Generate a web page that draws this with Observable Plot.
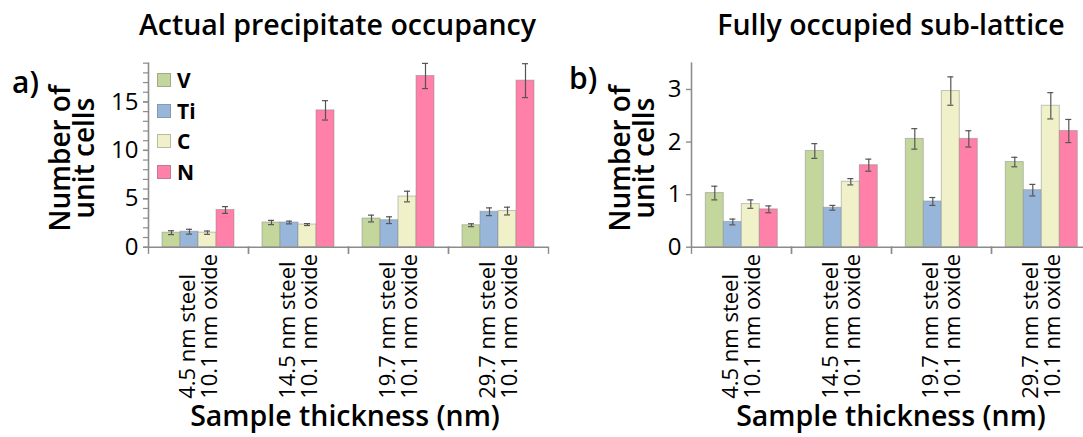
<!DOCTYPE html>
<html>
<head>
<meta charset="utf-8">
<script src="https://cdn.jsdelivr.net/npm/d3@7"></script>
<script src="https://cdn.jsdelivr.net/npm/@observablehq/plot@0.6"></script>
<style>
html, body { margin: 0; padding: 0; background: #fff; overflow: hidden; }
#wrap { position: relative; width: 1083px; height: 437px; overflow: hidden; font-family: "Open Sans", sans-serif; color: #000; }
.abs { position: absolute; white-space: nowrap; }
.title { font-size: 28.5px; line-height: 30px; font-weight: 600; transform: translateX(-50%); }
.xtitle { font-size: 28.5px; line-height: 30px; font-weight: 600; transform: translateX(-50%); }
.plabel { font-size: 30px; line-height: 30px; font-weight: 600; }
.legend { font-weight: bold; font-size: 21px; }
.legend .row { position: absolute; left: 0; display: flex; align-items: center; height: 24px; }
.legend .sw { width: 14px; height: 14px; box-sizing: border-box; border: 1px solid rgba(120,120,120,0.45); margin-right: 6px; }
</style>
</head>
<body>
<div id="wrap"></div>
<script>
// ---- data ----
const groups = ["4.5 nm steel\n10.1 nm oxide", "14.5 nm steel\n10.1 nm oxide", "19.7 nm steel\n10.1 nm oxide", "29.7 nm steel\n10.1 nm oxide"];
const elements = ["V", "Ti", "C", "N"];
const colors = ["#c3d69b", "#98b6da", "#f1f1c9", "#ff80a8"];

// (a) Actual precipitate occupancy
const actualV  = [1.50, 2.55, 2.96, 2.27];
const actualTi = [1.60, 2.55, 2.79, 3.66];
const actualC  = [1.50, 2.34, 5.23, 3.73];
const actualN  = [3.84, 14.13, 17.68, 17.20];
const actualErrV  = [0.20, 0.22, 0.35, 0.15];
const actualErrTi = [0.25, 0.14, 0.35, 0.40];
const actualErrC  = [0.17, 0.10, 0.55, 0.40];
const actualErrN  = [0.35, 1.00, 1.30, 1.75];

// (b) Fully occupied sub-lattice
const fullV  = [1.03, 1.83, 2.06, 1.62];
const fullTi = [0.48, 0.75, 0.87, 1.085];
const fullC  = [0.82, 1.245, 2.97, 2.69];
const fullN  = [0.72, 1.56, 2.06, 2.21];
const fullErrV  = [0.13, 0.14, 0.195, 0.09];
const fullErrTi = [0.055, 0.045, 0.075, 0.11];
const fullErrC  = [0.08, 0.06, 0.27, 0.25];
const fullErrN  = [0.065, 0.115, 0.155, 0.22];

const yTicksA = [0, 5, 10, 15];
const yMinorA = d3.range(0, 20, 1);
const yTicksB = [0, 1, 2, 3];

const titleA = "Actual precipitate occupancy";
const titleB = "Fully occupied sub-lattice";
const yLabel = "Number of\nunit cells";
const xLabel = "Sample thickness (nm)";

function table(vals, errs) {
  return groups.flatMap((g, i) => elements.map((e, j) => ({group: g, element: e, value: vals[j][i], err: errs[j][i]})));
}
const dataA = table([actualV, actualTi, actualC, actualN], [actualErrV, actualErrTi, actualErrC, actualErrN]);
const dataB = table([fullV, fullTi, fullC, fullN], [fullErrV, fullErrTi, fullErrC, fullErrN]);

const axisColor = "#8c8c8c";
const errColor = "#555";

function panel({data, yDomain, ticks, minor, width, marginLeft, marginRight, yLabelDx}) {
  const marginTop = 62.7, marginBottom = 190.3, height = 437;
  const plotH = height - marginTop - marginBottom;
  const marks = [
    Plot.barY(data, {fx: "group", x: "element", y: "value", fill: "element", stroke: "#8a8a8a", strokeOpacity: 0.5, strokeWidth: 1}),
    Plot.ruleX(data, {fx: "group", x: "element", y1: d => d.value - d.err, y2: d => d.value + d.err, stroke: errColor, strokeWidth: 1.2}),
    Plot.tickY(data, {fx: "group", x: "element", y: d => d.value + d.err, inset: 6, stroke: errColor, strokeWidth: 1.2}),
    Plot.tickY(data, {fx: "group", x: "element", y: d => d.value - d.err, inset: 6, stroke: errColor, strokeWidth: 1.2}),
    Plot.ruleY([0], {stroke: axisColor, strokeWidth: 1.6}),
    Plot.frame({anchor: "left", insetTop: plotH, insetBottom: -6, stroke: axisColor, strokeWidth: 1.4}),
    Plot.frame({anchor: "right", insetTop: plotH, insetBottom: -6, stroke: axisColor, strokeWidth: 1.4}),
    Plot.frame({anchor: "left", facetAnchor: "left", stroke: axisColor, strokeWidth: 1.6}),
  ];
  if (minor) marks.push(Plot.axisY({ticks: minor, tickSize: 5, tickFormat: () => "", stroke: axisColor, strokeWidth: 1.2, label: null}));
  marks.push(Plot.axisY({ticks, tickSize: 5, tickPadding: 5, tickFormat: d3.format("d"), stroke: axisColor, strokeWidth: 1.4, fill: "#000", fontSize: 24, label: null}));
  marks.push(Plot.text([groups[0]], {fx: d => d, text: () => yLabel, frameAnchor: "left", rotate: -90, dx: yLabelDx, dy: 3,
    textAnchor: "middle", lineAnchor: "middle", fontSize: 28, fontWeight: 600, lineHeight: 0.86, fill: "#000"}));
  marks.push(Plot.text(groups, {fx: d => d, text: d => d, frameAnchor: "bottom", rotate: -90, dy: 151.6,
    textAnchor: "start", lineAnchor: "middle", fontSize: 22, lineHeight: 1.0, fill: "#000"}));
  return Plot.plot({
    width, height, marginTop, marginBottom, marginLeft, marginRight,
    style: {background: "transparent", overflow: "visible", fontFamily: "'Open Sans', sans-serif", color: "#000"},
    fx: {domain: groups, padding: 0, axis: null},
    x: {domain: elements, paddingInner: 0, paddingOuter: 0.76, axis: null},
    y: {domain: yDomain, axis: null},
    color: {domain: elements, range: colors},
    marks
  });
}

const wrap = document.getElementById("wrap");

const svgA = panel({data: dataA, yDomain: [0, 19], ticks: yTicksA, minor: yMinorA, width: 552, marginLeft: 147, marginRight: 4, yLabelDx: -74});
svgA.style.position = "absolute"; svgA.style.left = "0px"; svgA.style.top = "0px";
wrap.appendChild(svgA);

const svgB = panel({data: dataB, yDomain: [0, 3.5], ticks: yTicksB, minor: null, width: 560, marginLeft: 150.7, marginRight: 9, yLabelDx: -57});
svgB.style.position = "absolute"; svgB.style.left = "540px"; svgB.style.top = "0px";
wrap.appendChild(svgB);

function addDiv(cls, text, left, top) {
  const d = document.createElement("div");
  d.className = "abs " + cls;
  d.textContent = text;
  d.style.left = left + "px";
  d.style.top = top + "px";
  wrap.appendChild(d);
  return d;
}
addDiv("title", titleA, 337.5, 9);
addDiv("title", titleB, 891, 9);
addDiv("xtitle", xLabel, 345, 400);
addDiv("xtitle", xLabel, 891, 400);
addDiv("plabel", "a)", 12, 67);
addDiv("plabel", "b)", 569, 63);

// legend
const leg = document.createElement("div");
leg.className = "abs legend";
leg.style.left = "157px"; leg.style.top = "68px";
elements.forEach((e, i) => {
  const row = document.createElement("div");
  row.className = "row";
  row.style.top = (i * 30.5) + "px";
  const sw = document.createElement("div");
  sw.className = "sw";
  sw.style.background = colors[i];
  const lb = document.createElement("span");
  lb.textContent = e;
  row.appendChild(sw); row.appendChild(lb);
  leg.appendChild(row);
});
wrap.appendChild(leg);
</script>
</body>
</html>
